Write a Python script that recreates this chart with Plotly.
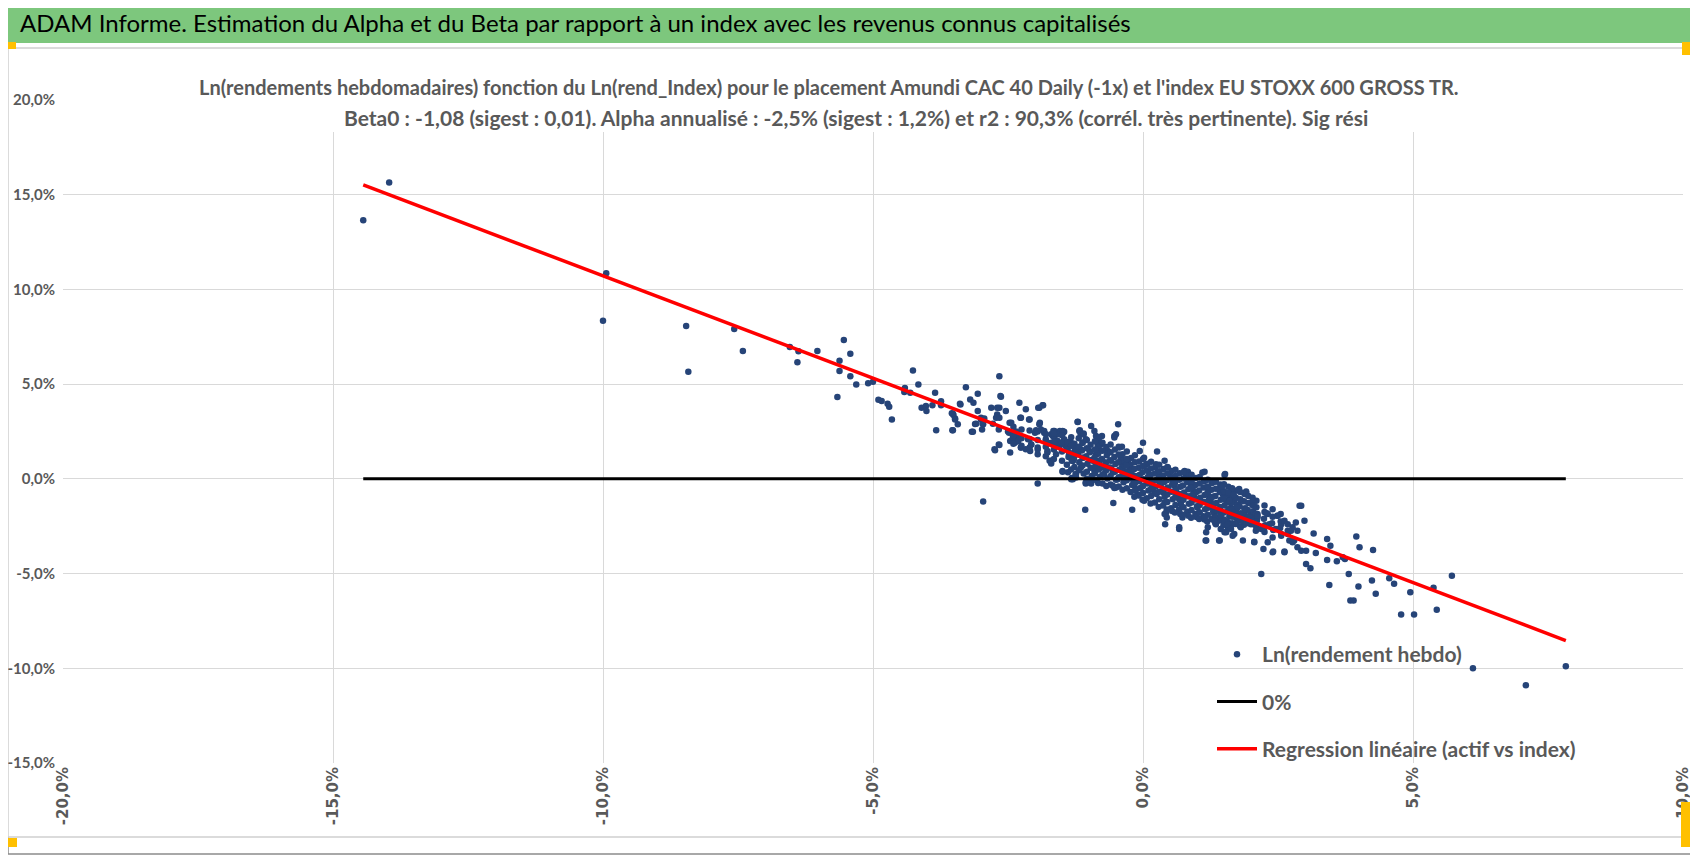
import plotly.graph_objects as go

W, H = 1698, 855
OFF = 8  # the page body margin moves the figure by 8 px
PL, PR, PT, PB = 63, 1683, 100, 763  # plot area in screen pixels

header_text = "ADAM Informe. Estimation du Alpha et du Beta par rapport à un index avec les revenus connus capitalisés"
title_line1 = "Ln(rendements hebdomadaires) fonction du Ln(rend_Index) pour le placement Amundi CAC 40 Daily (-1x) et l'index EU STOXX 600 GROSS TR."
title_line2 = "Beta0 : -1,08 (sigest : 0,01). Alpha annualisé : -2,5% (sigest : 1,2%) et r2 : 90,3% (corrél. très pertinente). Sig rési"

series_names = ["Ln(rendement hebdo)", "0%", "Regression linéaire (actif vs index)"]

x_ticks = [-20, -15, -10, -5, 0, 5, 10]
x_tick_labels = ["-20,0%", "-15,0%", "-10,0%", "-5,0%", "0,0%", "5,0%", "10,0%"]
y_ticks = [-15, -10, -5, 0, 5, 10, 15, 20]
y_tick_labels = ["-15,0%", "-10,0%", "-5,0%", "0,0%", "5,0%", "10,0%", "15,0%", "20,0%"]

# regression (weekly, in %)
beta = -1.08
alpha_weekly = -0.08

# (ln index return %, ln fund return %), by region
pts_far_left = [
    (-14.44, 13.65), (-13.96, 15.65), (-9.94, 10.86), (-10.0, 8.35), (-8.46, 8.07), (-8.42, 5.65),
    (-7.57, 7.91), (-7.41, 6.75), (-6.54, 6.96), (-6.38, 6.74), (-6.40, 6.16), (-6.03, 6.75),
    (-5.54, 7.33), (-5.42, 6.60), (-5.62, 6.23), (-5.62, 5.70), (-5.42, 5.42), (-5.31, 4.98),
    (-5.09, 5.05), (-5.00, 5.12), (-5.66, 4.32), (-4.90, 4.18), (-4.84, 4.11), (-4.73, 3.96),
]

pts_upper = [
    (-4.70, 3.81), (-4.65, 3.14), (-4.26, 5.72), (-4.16, 4.98), (-4.41, 4.80), (-4.42, 4.58),
    (-4.31, 4.54), (-3.85, 4.54), (-4.10, 3.75), (-4.02, 3.84), (-4.01, 3.58), (-3.90, 3.88),
    (-3.74, 4.10), (-3.74, 3.88), (-3.83, 2.56), (-3.53, 2.56), (-3.54, 3.46), (-3.51, 3.37),
    (-3.48, 3.19), (-3.43, 2.88), (-3.39, 3.96), (-3.28, 4.84), (-3.20, 4.19), (-3.14, 4.02),
    (-3.06, 4.49), (-3.06, 3.58), (-3.17, 2.49), (-3.11, 2.90), (-3.00, 3.14), (-2.98, 2.60),
    (-2.96, 2.88), (-2.96, -1.19), (-2.81, 3.75), (-2.75, 1.56), (-2.70, 3.75), (-2.70, 3.40),
    (-2.72, 3.23), (-2.66, 5.42), (-2.64, 4.37), (-2.54, 3.58), (-2.67, 1.82), (-2.67, 2.60),
    (-2.50, 2.50), (-2.47, 2.96), (-2.46, 2.00), (-2.46, 1.39), (-2.38, 2.40), (-2.35, 2.50),
    (-2.32, 2.26), (-2.39, 2.10), (-2.29, 4.02), (-2.26, 3.23), (-2.26, 1.65), (-2.17, 3.67),
    (-2.10, 3.14), (-2.13, 2.09), (-2.07, 1.82), (-2.00, 2.44), (-1.95, 1.65), (-1.95, -0.25),
    (-1.92, 3.75), (-1.85, 3.89), (-1.92, 2.88), (-1.89, 2.61), (-1.83, 2.44), (-1.80, 2.00),
    (-1.77, 1.47), (-1.73, 0.95), (-1.70, 1.91), (-1.67, 2.26), (-1.66, 2.53), (-1.64, 2.18),
    (-1.58, 2.00), (-1.54, 2.53), (-1.48, 2.44), (-1.46, 1.82), (-1.49, 0.37), (-1.43, 1.74),
    (-1.40, 1.56), (-1.37, 1.30), (-1.33, 1.12), (-1.30, 0.95), (-1.27, 1.21), (-1.24, 1.47),
    (-1.21, 3.00), (-1.18, 2.53), (-1.15, 2.35), (-1.12, 1.91), (-1.10, 2.40), (-1.32, 0.04),
    (-1.24, 0.25), (-1.15, 0.60), (-1.07, -1.63), (-1.06, -0.25), (-0.96, -0.25), (-0.96, 2.79),
    (-3.38, 3.93), (-3.52, 3.44), (-3.48, 3.14), (-3.52, 2.56), (-3.15, 2.49), (-3.09, 2.91),
    (-2.97, 2.91), (-3.00, 3.23), (-2.94, 3.19), (-2.78, 2.91), (-2.66, 3.75), (-2.63, 4.33),
    (-2.66, 3.23), (-2.74, 1.51), (-2.66, 1.79), (-2.44, 2.96), (-2.48, 2.44), (-2.41, 2.18),
    (-2.37, 1.91), (-2.31, 2.00), (-2.26, 1.65), (-2.17, 1.56), (-2.07, 1.82), (-2.09, 1.47),
    (-1.95, 1.30), (-2.27, 3.23), (-2.11, 3.14), (-1.94, 3.75), (-1.86, 3.89), (-1.91, 2.96),
    (-1.98, 2.56), (-1.83, 2.53), (-1.80, 2.09), (-1.77, 1.91), (-1.70, 2.35), (-1.64, 2.53),
    (-1.57, 2.35), (-1.49, 2.53), (-1.46, 2.09), (-1.77, 1.39), (-1.70, 0.95), (-1.61, 1.30),
    (-1.55, 1.74), (-1.64, 1.82), (-1.21, 3.02), (-1.15, 2.35), (-1.06, 2.09), (-1.33, 1.91),
    (-1.27, 1.65), (-1.15, 1.56), (-0.99, 1.47), (-0.93, 0.95), (-0.90, 0.42), (-1.12, 1.12),
    (-1.30, 0.95), (-1.49, 0.42), (-1.33, -0.02), (-1.24, 0.07), (-1.06, -0.19), (-0.99, -0.19),
    (-1.70, 0.81), (-0.87, 2.26), (-0.84, 1.82), (-0.81, 1.47), (-0.84, 0.95), (-0.78, 0.60),
    (-1.46, 2.49), (-1.17, 2.56), (-1.10, 2.35), (-0.76, 2.26), (-0.53, 2.26), (-0.39, 1.70),
    (-1.30, -0.02),
    (-2.40, 2.75), (-2.40, 2.30), (-2.40, 1.85), (-2.25, 2.60), (-2.25, 2.15), (-2.25, 1.75),
    (-2.10, 2.55), (-2.10, 2.10), (-2.10, 1.65), (-1.95, 2.50), (-1.95, 2.05), (-1.95, 1.55),
    (-1.80, 2.35), (-1.80, 1.70), (-1.80, 1.20), (-1.65, 2.40), (-1.65, 1.95), (-1.65, 1.55),
    (-1.65, 1.05), (-1.50, 2.30), (-1.50, 1.90), (-1.50, 1.45), (-1.50, 0.95),
]

pts_core_read = [
    (-0.90, 2.53), (-0.84, 2.00), (-0.81, 2.18), (-0.78, 1.82), (-0.87, 1.30), (-0.81, 0.95),
    (-0.75, 0.60), (-0.72, 0.25), (-0.65, 1.47), (-0.59, 0.95), (-0.53, 2.18), (-0.50, 2.35),
    (-0.46, 2.88), (-0.44, 1.65), (-0.41, 1.12), (-0.38, 0.77), (-0.35, 0.42), (-0.31, 0.16),
    (-0.55, -1.28), (-0.56, -0.37), (-0.50, -0.46), (-0.47, -0.02), (-0.69, 0.86), (-0.62, 0.60),
    (-0.56, 0.33), (-0.28, 0.95), (-0.25, 0.60), (-0.22, 0.25), (-0.19, -0.02), (-0.16, -0.28),
    (-0.13, -0.54), (-0.10, -0.81), (-0.20, -1.63), (-0.06, 1.47), (0.00, 1.91), (0.02, 1.12),
    (0.06, 0.77), (0.09, 0.42), (0.12, 0.07), (0.15, -0.19), (0.18, -0.46), (0.21, -0.72),
    (0.26, 1.44), (0.24, 0.77), (0.27, 0.33), (0.30, -0.02), (0.33, -0.28), (0.38, -0.72),
    (0.40, -1.25), (0.43, -1.77), (0.41, -2.39), (0.44, -2.04), (0.40, 0.95), (0.46, 0.60),
    (0.49, 0.25), (0.52, 0.07), (0.55, -0.11), (0.58, -0.37), (0.61, -0.63), (0.64, -0.81),
    (0.67, -1.07), (0.70, -1.33), (0.67, -2.65), (0.73, -2.04), (0.77, 0.42), (0.80, 0.16),
    (0.83, 0.33), (0.86, -0.02), (0.89, -0.28), (0.92, -0.54), (0.95, -0.81), (0.98, -1.07),
    (1.01, -1.51), (1.04, -1.77), (1.10, 0.33), (1.14, -0.11), (1.17, -0.46), (1.20, -0.72),
    (1.23, -0.98), (1.26, -1.25), (1.29, -1.51), (1.32, -1.86), (1.35, -2.39), (1.17, -2.82),
    (1.17, -3.26), (1.51, 0.21), (1.44, -0.46), (1.48, -0.81), (1.54, -1.16), (1.60, -0.98),
    (1.63, -1.51), (1.69, -1.77), (1.72, -2.04), (1.78, -0.54), (1.81, -1.16), (1.41, -3.26),
    (1.51, -2.82), (1.57, -2.56), (1.66, -2.39), (1.75, -2.21), (1.88, -1.86), (1.91, -0.72),
    (1.94, -2.21), (2.00, -1.86), (0.83, 0.37), (1.14, 0.37), (1.52, 0.25), (0.02, -1.16),
    (0.40, -1.86), (0.67, -2.56), (1.91, -0.67), (1.66, -0.72), (1.69, -1.16), (2.05, -1.16),
    (2.12, -1.86), (1.20, -2.56), (1.38, -2.21), (1.57, -2.47),
]

# dense middle of the cloud (markers overlap into a solid band)
pts_core_fill = [
    (-1.40, 1.95), (-1.40, 1.55), (-1.38, 1.15), (-1.41, 0.75), (-1.39, 0.35),
    (-1.27, 1.85), (-1.26, 1.45), (-1.28, 1.05), (-1.27, 0.62), (-1.25, 0.22),
    (-1.12, 1.90), (-1.13, 1.50), (-1.11, 1.12), (-1.12, 0.70), (-1.10, 0.28),
    (-0.97, 1.80), (-0.98, 1.40), (-0.96, 1.00), (-0.97, 0.58), (-0.95, 0.15), (-0.98, -0.12),
    (-0.82, 1.72), (-0.83, 1.33), (-0.81, 0.92), (-0.82, 0.50), (-0.80, 0.10), (-0.83, -0.22),
    (-0.68, 1.68), (-0.67, 1.25), (-0.69, 0.85), (-0.68, 0.45), (-0.66, 0.02), (-0.68, -0.38),
    (-0.52, 1.55), (-0.53, 1.15), (-0.51, 0.78), (-0.52, 0.38), (-0.50, -0.05), (-0.53, -0.48),
    (-0.38, 1.30), (-0.37, 0.95), (-0.39, 0.60), (-0.38, 0.22), (-0.36, -0.18), (-0.38, -0.58),
    (-0.22, 1.10), (-0.23, 0.75), (-0.21, 0.40), (-0.22, 0.05), (-0.20, -0.32), (-0.23, -0.70),
    (-0.07, 0.92), (-0.08, 0.58), (-0.06, 0.22), (-0.07, -0.12), (-0.05, -0.48), (-0.08, -0.88),
    (0.08, 0.80), (0.07, 0.45), (0.09, 0.10), (0.08, -0.25), (0.10, -0.62), (0.07, -1.02),
    (0.23, 0.62), (0.22, 0.28), (0.24, -0.08), (0.23, -0.42), (0.25, -0.80), (0.22, -1.25),
    (0.38, 0.52), (0.37, 0.18), (0.39, -0.18), (0.38, -0.55), (0.40, -0.95), (0.37, -1.40),
    (0.53, 0.42), (0.52, 0.08), (0.54, -0.30), (0.53, -0.68), (0.55, -1.08), (0.52, -1.55), (0.54, -1.70),
    (0.68, 0.30), (0.67, -0.05), (0.69, -0.42), (0.68, -0.80), (0.70, -1.20), (0.67, -1.62), (0.69, -1.85),
    (0.83, 0.18), (0.82, -0.18), (0.84, -0.55), (0.83, -0.92), (0.85, -1.32), (0.82, -1.72), (0.84, -1.95),
    (0.98, 0.05), (0.97, -0.32), (0.99, -0.70), (0.98, -1.08), (1.00, -1.45), (0.97, -1.85), (0.99, -2.02),
    (1.13, -0.10), (1.12, -0.45), (1.14, -0.85), (1.13, -1.22), (1.15, -1.60), (1.12, -1.98), (1.14, -2.15),
    (1.28, -0.22), (1.27, -0.58), (1.29, -0.95), (1.28, -1.35), (1.30, -1.72), (1.27, -2.12),
    (1.43, -0.30), (1.42, -0.70), (1.44, -1.10), (1.43, -1.48), (1.45, -1.85), (1.42, -2.20),
    (1.58, -0.42), (1.57, -0.82), (1.59, -1.22), (1.58, -1.60), (1.60, -1.98), (1.57, -2.28),
    (1.73, -0.62), (1.72, -1.00), (1.74, -1.38), (1.73, -1.75), (1.75, -2.10), (1.72, -2.38),
    (1.88, -0.80), (1.87, -1.18), (1.89, -1.55), (1.88, -1.90), (1.90, -2.25), (1.87, -2.42),
    (2.03, -1.00), (2.02, -1.35), (2.04, -1.72), (2.03, -2.05), (2.05, -2.40),
]

pts_core_fill2 = [
    (-1.33, 2.20), (-1.33, 1.75), (-1.34, 1.35), (-1.32, 0.95), (-1.33, 0.50),
    (-1.19, 2.15), (-1.19, 1.70), (-1.20, 1.30), (-1.18, 0.88), (-1.19, 0.45),
    (-1.04, 2.05), (-1.04, 1.62), (-1.05, 1.20), (-1.03, 0.80), (-1.04, 0.38), (-1.04, 0.00),
    (-0.89, 1.98), (-0.89, 1.55), (-0.90, 1.12), (-0.88, 0.70), (-0.89, 0.30), (-0.89, -0.05),
    (-0.75, 1.90), (-0.75, 1.48), (-0.76, 1.05), (-0.74, 0.65), (-0.75, 0.22), (-0.75, -0.25),
    (-0.60, 1.82), (-0.60, 1.40), (-0.61, 0.98), (-0.59, 0.58), (-0.60, 0.15), (-0.60, -0.30),
    (-0.45, 1.70), (-0.45, 1.28), (-0.46, 0.88), (-0.44, 0.48), (-0.45, 0.08), (-0.45, -0.40),
    (-0.30, 1.45), (-0.30, 1.05), (-0.31, 0.70), (-0.29, 0.32), (-0.30, -0.08), (-0.30, -0.50),
    (-0.15, 1.25), (-0.15, 0.88), (-0.16, 0.52), (-0.14, 0.15), (-0.15, -0.22), (-0.15, -0.62), (-0.16, -0.95),
    (0.00, 1.05), (0.00, 0.68), (-0.01, 0.35), (0.01, -0.02), (0.00, -0.38), (0.00, -0.75), (-0.01, -1.10),
    (0.15, 0.90), (0.15, 0.55), (0.14, 0.20), (0.16, -0.15), (0.15, -0.52), (0.15, -0.90), (0.14, -1.30),
    (0.30, 0.75), (0.30, 0.40), (0.29, 0.05), (0.31, -0.30), (0.30, -0.68), (0.30, -1.08), (0.29, -1.48),
    (0.45, 0.62), (0.45, 0.28), (0.44, -0.08), (0.46, -0.45), (0.45, -0.82), (0.45, -1.22), (0.44, -1.62),
    (0.60, 0.48), (0.60, 0.15), (0.59, -0.22), (0.61, -0.58), (0.60, -0.95), (0.60, -1.38), (0.59, -1.78),
    (0.75, 0.35), (0.75, 0.02), (0.74, -0.35), (0.76, -0.72), (0.75, -1.10), (0.75, -1.50), (0.74, -1.90),
    (0.90, 0.22), (0.90, -0.12), (0.89, -0.48), (0.91, -0.85), (0.90, -1.25), (0.90, -1.65), (0.89, -2.05),
    (1.05, 0.10), (1.05, -0.25), (1.04, -0.62), (1.06, -1.00), (1.05, -1.38), (1.05, -1.78), (1.04, -2.12),
    (1.20, -0.05), (1.20, -0.40), (1.19, -0.78), (1.21, -1.15), (1.20, -1.52), (1.20, -1.90), (1.19, -2.25),
    (1.35, -0.15), (1.35, -0.52), (1.34, -0.90), (1.36, -1.28), (1.35, -1.65), (1.35, -2.02), (1.34, -2.35),
    (1.50, -0.28), (1.50, -0.65), (1.49, -1.02), (1.51, -1.40), (1.50, -1.78), (1.50, -2.15), (1.49, -2.45),
    (1.65, -0.50), (1.65, -0.88), (1.64, -1.25), (1.66, -1.62), (1.65, -2.00), (1.65, -2.35),
    (1.80, -0.70), (1.80, -1.08), (1.79, -1.45), (1.81, -1.82), (1.80, -2.18), (1.80, -2.50),
    (1.95, -0.90), (1.95, -1.28), (1.94, -1.65), (1.96, -2.00), (1.95, -2.35),
    (2.10, -1.15), (2.10, -1.50), (2.09, -1.85), (2.11, -2.20), (2.10, -2.55),
    (2.25, -1.40), (2.25, -1.75), (2.24, -2.10), (2.26, -2.45), (2.25, -2.80),
    (2.40, -1.60), (2.40, -2.00), (2.39, -2.35), (2.41, -2.70),
    (2.55, -1.85), (2.55, -2.25), (2.54, -2.60), (2.56, -3.00),
]

pts_lower = [
    (2.06, -3.35), (2.12, -2.04), (2.25, -2.56), (2.31, -1.86), (2.40, -3.88), (2.49, -1.95),
    (2.56, -2.39), (2.62, -3.88), (2.68, -2.74), (2.77, -2.56), (2.83, -2.30), (2.90, -1.42),
    (2.80, -3.26), (2.93, -1.42), (2.99, -2.21), (3.16, -2.88), (3.41, -3.18), (3.47, -3.53),
    (3.95, -3.04), (4.01, -3.61), (4.26, -3.75), (3.20, -3.91), (3.02, -3.79), (3.41, -4.28),
    (3.59, -4.35), (3.70, -4.14), (3.74, -4.23), (3.02, -4.49), (3.10, -4.72), (2.19, -5.02),
    (3.81, -5.02), (3.45, -5.60), (3.99, -5.68), (4.24, -5.37), (4.31, -6.07), (4.56, -5.25),
    (4.65, -5.54), (3.84, -6.42), (3.90, -6.42), (4.95, -5.98), (4.78, -7.16), (5.02, -7.16),
    (5.38, -5.75), (5.44, -6.91), (5.72, -5.11), (6.11, -10.0), (7.09, -10.89), (7.83, -9.89),
    (1.16, -3.26), (1.42, -3.26), (1.69, -2.91), (1.85, -3.26), (2.06, -3.32), (2.23, -3.70),
    (2.41, -3.84), (2.62, -3.84), (2.86, -3.61), (2.93, -3.79), (1.46, -0.42), (1.58, -0.72),
    (1.68, -0.84), (2.03, -1.16), (2.04, -1.42), (2.12, -1.95), (2.29, -1.82), (2.49, -1.95),
    (2.62, -2.21), (2.68, -2.39), (2.86, -2.74), (2.71, -3.26), (2.77, -3.35), (2.31, -3.35),
    (2.40, -3.09), (1.26, -0.98), (1.32, -1.33), (1.38, -1.68), (1.44, -1.95), (1.51, -2.21),
    (1.57, -2.39), (1.63, -2.65), (1.81, -2.56), (1.94, -2.04), (2.00, -2.39), (2.09, -2.74),
    (2.19, -2.65), (2.34, -2.39), (2.46, -2.65), (2.56, -2.91), (2.68, -2.91), (2.74, -2.74),
    (1.32, -2.21), (1.44, -2.65), (1.54, -2.82), (1.66, -3.00), (1.75, -1.51), (1.88, -1.60),
    (1.60, -1.16), (1.20, -1.51), (1.14, -2.04),
]

all_pts = pts_far_left + pts_upper + pts_core_read + pts_core_fill + pts_core_fill2 + pts_lower
idx_ret = [p[0] for p in all_pts]
fund_ret = [p[1] for p in all_pts]

x_lo, x_hi = min(idx_ret), max(idx_ret)
reg_x = [x_lo, x_hi]
reg_y = [alpha_weekly + beta * v for v in reg_x]

FONT = "Lato, Roboto, sans-serif"
GRAY_TXT = "#595959"


def px_x(p):
    # screen pixel -> paper x
    return (p - PL) / (PR - PL)


def px_y(p):
    # screen pixel -> paper y
    return (PB - p) / (PB - PT)


fig = go.Figure()

fig.add_trace(go.Scatter(
    x=idx_ret, y=fund_ret, mode="markers", name=series_names[0], legendgroup="a",
    marker=dict(color="#264478", size=6.5, line=dict(width=0)),
))
fig.add_trace(go.Scatter(
    x=reg_x, y=[0, 0], mode="lines", name=series_names[1], legendgroup="b",
    line=dict(color="black", width=3),
))
fig.add_trace(go.Scatter(
    x=reg_x, y=reg_y, mode="lines", name=series_names[2], legendgroup="c",
    line=dict(color="#FF0000", width=3.5),
))

shapes = []
# outer frame, chart frame and header band
shapes.append(dict(type="rect", xref="paper", yref="paper", layer="below",
                   x0=px_x(OFF), x1=px_x(W - 1), y0=px_y(H - 1), y1=px_y(OFF),
                   line=dict(color="#8C8C8C", width=1.5), fillcolor="white"))
shapes.append(dict(type="rect", xref="paper", yref="paper", layer="below",
                   x0=px_x(OFF), x1=px_x(W - 2), y0=px_y(837), y1=px_y(48),
                   line=dict(color="#D0D0D0", width=1.5), fillcolor="white"))
shapes.append(dict(type="rect", xref="paper", yref="paper", layer="below",
                   x0=px_x(OFF), x1=px_x(W - 1), y0=px_y(43), y1=px_y(OFF),
                   line=dict(width=0), fillcolor="#7DC77D"))
# white box behind the chart title
shapes.append(dict(type="rect", xref="paper", yref="paper", layer="above",
                   x0=px_x(206), x1=px_x(1457), y0=px_y(132), y1=px_y(68),
                   line=dict(width=0), fillcolor="white"))
# selection handles
for x0, y0, x1, y1 in [(OFF, 42, 16, 49), (1682, 42, 1697, 55), (OFF, 838, 17, 847), (1681, 802, 1696, 847)]:
    shapes.append(dict(type="rect", xref="paper", yref="paper", layer="above",
                       x0=px_x(x0), x1=px_x(x1), y0=px_y(y1), y1=px_y(y0),
                       line=dict(width=0), fillcolor="#FFC000"))

annotations = [
    dict(text=header_text, xref="paper", yref="paper", x=px_x(18), y=px_y(23),
         xanchor="left", yanchor="middle", showarrow=False,
         font=dict(family=FONT, size=24, color="black")),
    dict(text=title_line1, xref="paper", yref="paper", x=px_x(829), y=px_y(87),
         xanchor="center", yanchor="middle", showarrow=False,
         font=dict(family=FONT, size=20, color=GRAY_TXT, weight="bold")),
    dict(text=title_line2, xref="paper", yref="paper", x=px_x(856), y=px_y(117),
         xanchor="center", yanchor="middle", showarrow=False,
         font=dict(family=FONT, size=21, color=GRAY_TXT, weight="bold")),
]

fig.update_layout(
    width=W, height=H,
    margin=dict(l=PL - OFF, r=W - PR + OFF, t=PT - OFF, b=H - PB + OFF, autoexpand=False),
    paper_bgcolor="white", plot_bgcolor="white",
    shapes=shapes, annotations=annotations,
    showlegend=True,
    legend=dict(x=px_x(1212), y=px_y(634), xanchor="left", yanchor="top",
                bgcolor="rgba(0,0,0,0)",
                font=dict(family=FONT, size=21, color=GRAY_TXT, weight="bold"),
                traceorder="grouped", tracegroupgap=17, itemwidth=40),
)
fig.update_xaxes(
    range=[-20, 10], tickvals=x_ticks, ticktext=x_tick_labels, tickangle=-90,
    showgrid=True, gridcolor="#D9D9D9", gridwidth=1.3, zeroline=False, showline=False,
    ticks="", automargin=False,
    tickfont=dict(family="DejaVu Sans", size=15, color=GRAY_TXT, weight="bold"),
)
fig.update_yaxes(
    range=[-15, 20], tickvals=y_ticks, ticktext=y_tick_labels,
    showgrid=True, gridcolor="#D9D9D9", gridwidth=1.3, zeroline=False, showline=False,
    ticks="", ticklabelstandoff=7, automargin=False,
    tickfont=dict(family=FONT, size=15, color=GRAY_TXT, weight="bold"),
)

fig.write_html("out.html")
